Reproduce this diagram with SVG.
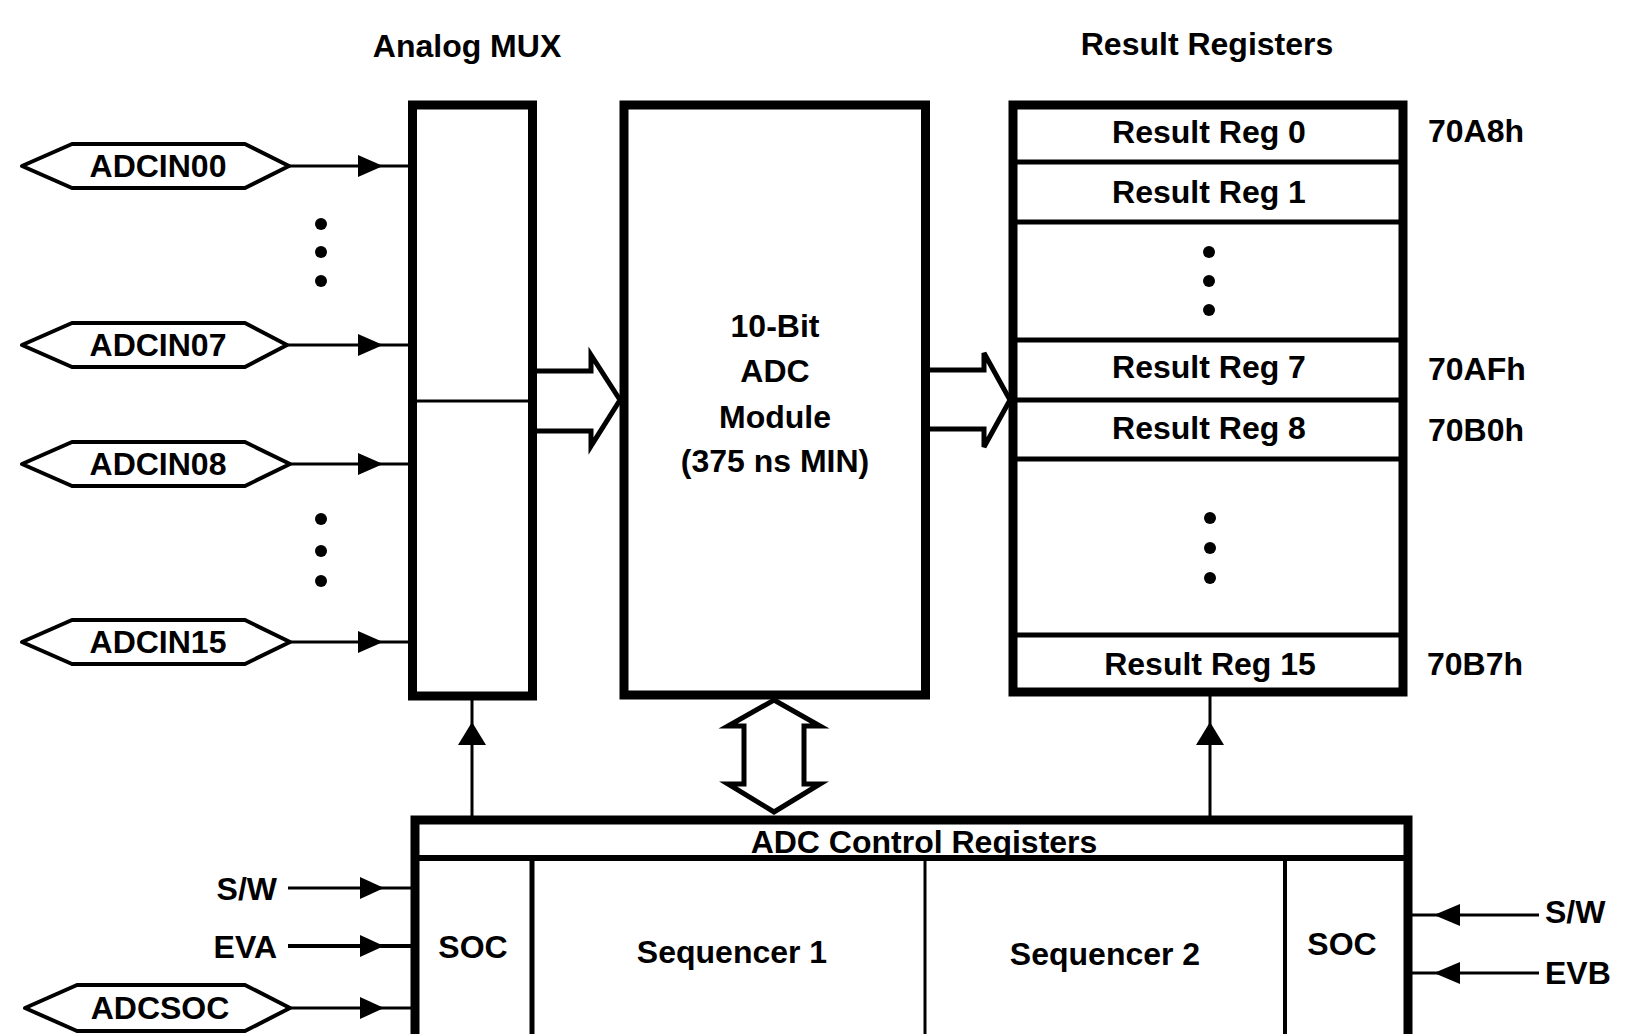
<svg xmlns="http://www.w3.org/2000/svg" width="1625" height="1034" viewBox="0 0 1625 1034">
<style>
text{font-family:"Liberation Sans",Arial,sans-serif;font-weight:bold;font-size:32px;fill:#000}
.c{text-anchor:middle}
.e{text-anchor:end}
.box{fill:#fff;stroke:#000;stroke-width:9}
.div{stroke:#000;stroke-width:5}
.thin{stroke:#000;stroke-width:3}
.hex{fill:#fff;stroke:#000;stroke-width:4;stroke-linejoin:round}
.ln{stroke:#000;stroke-width:3;fill:none}
.hol{fill:#fff;stroke:#000;stroke-width:5;stroke-linejoin:miter}
</style>
<defs>
<marker id="ah" viewBox="0 0 10 10" refX="10" refY="5" markerWidth="8.5" markerHeight="8" markerUnits="userSpaceOnUse" orient="auto"/>
</defs>
<rect width="1625" height="1034" fill="#fff"/>

<text class="c" x="467" y="57">Analog MUX</text>
<text class="c" x="1207" y="55">Result Registers</text>

<g id="mux">
<rect class="box" x="412.5" y="105" width="120" height="591"/>
<line class="thin" x1="417" y1="401" x2="528" y2="401"/>
</g>

<g id="adc">
<rect class="box" x="624" y="105" width="301.5" height="590"/>
<text class="c" x="775" y="337">10-Bit</text>
<text class="c" x="775" y="382">ADC</text>
<text class="c" x="775" y="428">Module</text>
<text class="c" x="775" y="472">(375 ns MIN)</text>
</g>

<g id="results">
<rect class="box" x="1013" y="105" width="390" height="587"/>
<line class="div" x1="1017" y1="162" x2="1399" y2="162"/>
<line class="div" x1="1017" y1="222" x2="1399" y2="222"/>
<line class="div" x1="1017" y1="340" x2="1399" y2="340"/>
<line class="div" x1="1017" y1="400" x2="1399" y2="400"/>
<line class="div" x1="1017" y1="459" x2="1399" y2="459"/>
<line class="div" x1="1017" y1="635" x2="1399" y2="635"/>
<text class="c" x="1209" y="143">Result Reg 0</text>
<text class="c" x="1209" y="203">Result Reg 1</text>
<circle cx="1209" cy="252" r="6"/><circle cx="1209" cy="281" r="6"/><circle cx="1209" cy="310" r="6"/>
<text class="c" x="1209" y="378">Result Reg 7</text>
<text class="c" x="1209" y="439">Result Reg 8</text>
<circle cx="1210" cy="518" r="6"/><circle cx="1210" cy="548" r="6"/><circle cx="1210" cy="578" r="6"/>
<text class="c" x="1210" y="675">Result Reg 15</text>
<text x="1428" y="142">70A8h</text>
<text x="1428" y="380">70AFh</text>
<text x="1428" y="441">70B0h</text>
<text x="1427" y="675">70B7h</text>
</g>

<g id="control">
<rect class="box" x="415" y="820" width="993" height="240"/>
<line class="div" x1="419" y1="858" x2="1404" y2="858" style="stroke-width:6"/>
<line class="div" x1="532" y1="858" x2="532" y2="1034"/>
<line class="thin" x1="925" y1="858" x2="925" y2="1034"/>
<line class="div" x1="1285" y1="858" x2="1285" y2="1034" style="stroke-width:4"/>
<text class="c" x="924" y="853">ADC Control Registers</text>
<text class="c" x="473" y="958">SOC</text>
<text class="c" x="732" y="963">Sequencer 1</text>
<text class="c" x="1105" y="965">Sequencer 2</text>
<text class="c" x="1342" y="955">SOC</text>
</g>

<g id="adcin00">
<polygon class="hex" points="22,166 72,144 245,144 289,166 245,188 72,188"/>
<text class="c" x="158" y="177">ADCIN00</text>
</g>
<g id="adcin07">
<polygon class="hex" points="22,345 72,323 245,323 287,345 245,367 72,367"/>
<text class="c" x="158" y="356">ADCIN07</text>
</g>
<g id="adcin08">
<polygon class="hex" points="22,464 72,442 245,442 290,464 245,486 72,486"/>
<text class="c" x="158" y="475">ADCIN08</text>
</g>
<g id="adcin15">
<polygon class="hex" points="22,642 72,620 245,620 290,642 245,664 72,664"/>
<text class="c" x="158" y="653">ADCIN15</text>
</g>
<g id="adcsoc">
<polygon class="hex" points="25,1008 77,985 245,985 290,1008 245,1031 77,1031"/>
<text class="c" x="160" y="1019">ADCSOC</text>
</g>

<g id="dots">
<circle cx="321" cy="224" r="6"/><circle cx="321" cy="252" r="6"/><circle cx="321" cy="281" r="6"/>
<circle cx="321" cy="519" r="6"/><circle cx="321" cy="551" r="6"/><circle cx="321" cy="581" r="6"/>
</g>

<g id="labels">
<text class="e" x="277" y="900">S/W</text>
<text class="e" x="277" y="958">EVA</text>
<text x="1545" y="923">S/W</text>
<text x="1545" y="984">EVB</text>
</g>

<g id="connectors">
<line class="ln" x1="289" y1="166" x2="409" y2="166"/>
<polygon points="358,155 383,166 358,177"/>
<line class="ln" x1="287" y1="345" x2="409" y2="345"/>
<polygon points="358,334 383,345 358,356"/>
<line class="ln" x1="290" y1="464" x2="409" y2="464"/>
<polygon points="358,453 383,464 358,475"/>
<line class="ln" x1="290" y1="642" x2="409" y2="642"/>
<polygon points="358,631 383,642 358,653"/>

<line class="ln" x1="288" y1="888" x2="412" y2="888"/>
<polygon points="360,877 384,888 360,899"/>
<line class="ln" x1="288" y1="946" x2="412" y2="946" style="stroke-width:4"/>
<polygon points="360,935 384,946 360,957"/>
<line class="ln" x1="290" y1="1008" x2="412" y2="1008"/>
<polygon points="360,997 384,1008 360,1019"/>

<line class="ln" x1="1539" y1="915" x2="1412" y2="915"/>
<polygon points="1460,904 1434,915 1460,926"/>
<line class="ln" x1="1539" y1="973" x2="1412" y2="973"/>
<polygon points="1460,962 1434,973 1460,984"/>

<line class="ln" x1="472" y1="817" x2="472" y2="700"/>
<polygon points="458,745 472,722 486,745"/>
<line class="ln" x1="1210" y1="817" x2="1210" y2="696"/>
<polygon points="1196,745 1210,722 1224,745"/>

<path class="hol" d="M537 371 H591 V355 L620 400 L591 446 V431 H537"/>
<path class="hol" d="M930 370 H984 V353 L1010 400 L984 447 V429 H930"/>
<path class="hol" d="M774 700 L820 726 H804 V784 H820 L774 812 L728 784 H744 V726 H728 Z"/>
</g>
</svg>
